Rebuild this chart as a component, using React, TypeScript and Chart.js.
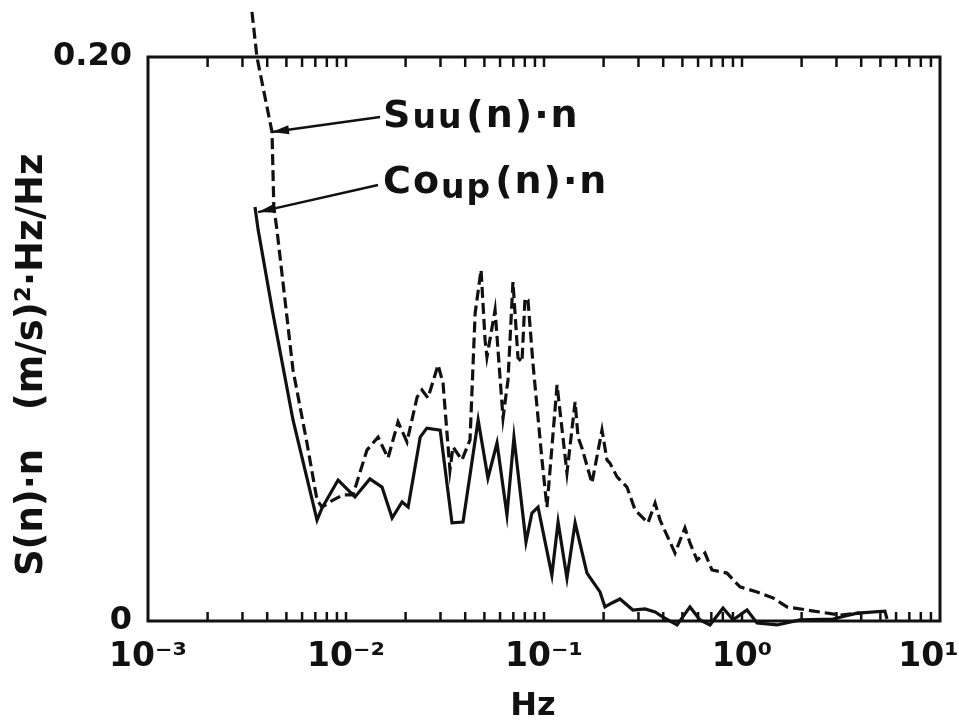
import { useEffect, useRef } from 'react';
import { Chart, registerables } from 'chart.js';

Chart.register(...registerables);

// ---- Data ----
// Suu(n)·n  (dashed)
const suuFreq = [
  0.00335, 0.00355, 0.00423, 0.00432, 0.00448, 0.0054, 0.00635, 0.00714, 0.00757, 0.00859,
  0.00966, 0.01084, 0.01276, 0.01452, 0.0163, 0.01832, 0.02032, 0.02286, 0.0242, 0.02594,
  0.02917, 0.0309, 0.0335, 0.0347, 0.0385, 0.0423, 0.0449, 0.0481, 0.0504, 0.0515,
  0.0566, 0.0621, 0.0658, 0.0697, 0.0739, 0.0774, 0.0802, 0.083, 0.0879, 0.0977,
  0.1035, 0.1164, 0.1306, 0.1436, 0.1486, 0.1556, 0.1746, 0.1963, 0.208, 0.2153,
  0.2339, 0.2624, 0.2884, 0.335, 0.364, 0.3855, 0.459, 0.515, 0.546, 0.593,
  0.65, 0.705, 0.839, 0.977, 1.191, 1.435, 1.687, 2.13, 3.126, 3.945,
];
const suuValue = [
  0.216, 0.2, 0.1734, 0.1468, 0.1387, 0.089, 0.0631, 0.0429, 0.0404, 0.0429,
  0.0447, 0.0447, 0.0606, 0.0652, 0.0578, 0.0706, 0.0635, 0.0794, 0.0819, 0.0791,
  0.0908, 0.0844, 0.0535, 0.0617, 0.0571, 0.0642, 0.1092, 0.1245, 0.0996, 0.0936,
  0.1103, 0.072, 0.0855, 0.1202, 0.0933, 0.0918, 0.1145, 0.1138, 0.0915, 0.0571,
  0.0404, 0.0837, 0.0525, 0.0777, 0.0652, 0.0613, 0.0489, 0.0677, 0.0571, 0.056,
  0.0511, 0.0475, 0.0394, 0.0348, 0.0418, 0.0358, 0.0241, 0.033, 0.0277, 0.0216,
  0.0241, 0.0181, 0.017, 0.0121, 0.0103, 0.0082, 0.005, 0.0039, 0.0021, 0.0028,
];

// Co_up(n)·n  (solid)
const coupFreq = [
  0.00347, 0.0036, 0.00427, 0.0054, 0.00714, 0.00757, 0.00912, 0.0111, 0.0132, 0.0152,
  0.0171, 0.0192, 0.0206, 0.0237, 0.0256, 0.0299, 0.0343, 0.039, 0.0465, 0.0521,
  0.0579, 0.065, 0.0705, 0.0811, 0.0869, 0.0933, 0.1096, 0.1178, 0.1306, 0.1436,
  0.1648, 0.1812, 0.1918, 0.2032, 0.2203, 0.2421, 0.281, 0.3236, 0.364, 0.399,
  0.47, 0.546, 0.614, 0.689, 0.802, 0.902, 1.06, 1.191, 1.503, 1.963,
  2.884, 3.81, 5.27, 5.4,
];
const coupValue = [
  0.1468, 0.1387, 0.1092, 0.0713, 0.0358, 0.0401, 0.05, 0.044, 0.0504, 0.0475,
  0.0365, 0.0422, 0.0404, 0.0652, 0.0684, 0.0677, 0.0348, 0.0351, 0.0713, 0.0507,
  0.0631, 0.0376, 0.0652, 0.028, 0.0383, 0.0404, 0.0163, 0.0351, 0.0152, 0.0348,
  0.017, 0.0128, 0.0103, 0.005, 0.0064, 0.0078, 0.0039, 0.0043, 0.0032, 0.0014,
  -0.0014, 0.005, 0.0004, -0.0014, 0.0046, 0.0004, 0.0039, -0.0007, -0.0014, 0.0004,
  0.0007, 0.0028, 0.0035, 0.0007,
];

// Axes
const xMin = 0.001;
const xMax = 10;
const xDecades = [0.001, 0.01, 0.1, 1, 10];
const xDecadeLabels = ['10⁻³', '10⁻²', '10⁻¹', '10⁰', '10¹  '];
const xMultipliers = [1, 2, 3, 4, 5, 6, 7, 8, 9];
const yMin = 0;
const yMax = 0.2;
const yTickValues = [0, 0.2];
const yTickLabels = ['0', '0.20'];
const xTitle = 'Hz  ';
const yTitle = 'S(n)·n   (m/s)²·Hz/Hz    ';

// Annotations (text + arrow), anchored in data units
const annMain = ['S', 'Co'];
const annSub = ['uu', 'up'];
const annRest = ['(n)·n', '(n)·n'];
const annTextFreq = [0.01538, 0.01538];
const annTextValue = [0.1752, 0.1518];
const annSubDrop = [1, 5];
const annTailFreq = [0.01486, 0.01452];
const annTailValue = [0.1787, 0.1546];
const annTipFreq = [0.00423, 0.0036];
const annTipValue = [0.1734, 0.145];

const INK = '#111';
const FONT = '"DejaVu Sans", "Noto Sans", sans-serif';

const framePlugin = {
  id: 'frameTicksAnnotations',
  afterDatasetsDraw(chart: any) {
    const { ctx, chartArea: a, scales } = chart;
    const xs = scales.x;
    const ys = scales.y;
    ctx.save();
    ctx.strokeStyle = INK;
    ctx.fillStyle = INK;
    ctx.setLineDash([]);
    ctx.lineWidth = 3;
    ctx.strokeRect(a.left, a.top, a.right - a.left, a.bottom - a.top);

    // inward tick marks on top and bottom
    ctx.lineWidth = 2.5;
    xs.ticks.forEach((t: any) => {
      const px = xs.getPixelForValue(t.value);
      if (px <= a.left + 1 || px >= a.right - 1) return;
      ctx.beginPath();
      ctx.moveTo(px, a.bottom);
      ctx.lineTo(px, a.bottom - 9);
      ctx.moveTo(px, a.top);
      ctx.lineTo(px, a.top + 10);
      ctx.stroke();
    });

    // annotations
    for (let i = 0; i < annMain.length; i++) {
      const tx = xs.getPixelForValue(annTextFreq[i]);
      const ty = ys.getPixelForValue(annTextValue[i]);
      (ctx as any).letterSpacing = '2px';
      ctx.textBaseline = 'alphabetic';
      ctx.textAlign = 'left';
      ctx.font = `bold 38px ${FONT}`;
      ctx.fillText(annMain[i], tx, ty);
      let cx = tx + ctx.measureText(annMain[i]).width;
      ctx.font = `bold 33px ${FONT}`;
      ctx.fillText(annSub[i], cx, ty + annSubDrop[i]);
      cx += ctx.measureText(annSub[i]).width + 3;
      ctx.font = `bold 38px ${FONT}`;
      ctx.fillText(annRest[i], cx, ty);
      (ctx as any).letterSpacing = '0px';

      const x1 = xs.getPixelForValue(annTailFreq[i]);
      const y1 = ys.getPixelForValue(annTailValue[i]);
      const x2 = xs.getPixelForValue(annTipFreq[i]);
      const y2 = ys.getPixelForValue(annTipValue[i]);
      ctx.lineWidth = 2.5;
      ctx.beginPath();
      ctx.moveTo(x1, y1);
      ctx.lineTo(x2, y2);
      ctx.stroke();
      const ang = Math.atan2(y2 - y1, x2 - x1);
      const len = 17;
      const hw = 4.5;
      const bx = x2 - len * Math.cos(ang);
      const by = y2 - len * Math.sin(ang);
      ctx.beginPath();
      ctx.moveTo(x2, y2);
      ctx.lineTo(bx + hw * Math.sin(ang), by - hw * Math.cos(ang));
      ctx.lineTo(bx - hw * Math.sin(ang), by + hw * Math.cos(ang));
      ctx.closePath();
      ctx.fill();
    }
    ctx.restore();
  },
};

export default function App() {
  const canvasRef = useRef<HTMLCanvasElement | null>(null);

  useEffect(() => {
    const canvas = canvasRef.current;
    if (!canvas) return;
    const xTickValues: number[] = [];
    xDecades.forEach((d, di) => {
      xMultipliers.forEach((m) => {
        const v = d * m;
        if (v <= xMax && (di < xDecades.length - 1 || m === 1)) xTickValues.push(v);
      });
    });

    const chart = new Chart(canvas, {
      type: 'line',
      data: {
        datasets: [
          {
            label: 'Suu(n)·n',
            data: suuFreq.map((f, i) => ({ x: f, y: suuValue[i] })),
            borderColor: INK,
            borderWidth: 3.2,
            borderDash: [11, 5],
            pointRadius: 0,
            tension: 0,
            fill: false,
            clip: false as any,
          },
          {
            label: 'Coup(n)·n',
            data: coupFreq.map((f, i) => ({ x: f, y: coupValue[i] })),
            borderColor: INK,
            borderWidth: 3.2,
            pointRadius: 0,
            tension: 0,
            fill: false,
            clip: false as any,
          },
        ],
      },
      options: {
        animation: false,
        responsive: false,
        maintainAspectRatio: false,
        layout: { padding: { top: 57, right: 19, left: 0, bottom: 0 } },
        plugins: {
          legend: { display: false },
          tooltip: { enabled: false },
        },
        scales: {
          x: {
            type: 'logarithmic',
            position: 'bottom',
            min: xMin,
            max: xMax,
            grid: { display: false, drawTicks: false },
            border: { display: false },
            afterBuildTicks: (scale: any) => {
              scale.ticks = xTickValues.map((v) => ({ value: v }));
            },
            afterFit: (scale: any) => {
              scale.height = 102;
              scale.paddingLeft = 0;
              scale.paddingRight = 0;
            },
            ticks: {
              autoSkip: false,
              maxRotation: 0,
              minRotation: 0,
              padding: 17,
              color: INK,
              font: { family: FONT, size: 33, weight: 'bold' },
              callback: (value: any) => {
                const v = Number(value);
                const i = xDecades.findIndex((d) => Math.abs(v / d - 1) < 1e-6);
                return i >= 0 ? xDecadeLabels[i] : '';
              },
            },
            title: {
              display: true,
              text: xTitle,
              color: INK,
              font: { family: FONT, size: 32, weight: 'bold', lineHeight: 1 },
              padding: { top: 0, bottom: 0 },
            },
          },
          y: {
            type: 'linear',
            position: 'left',
            min: yMin,
            max: yMax,
            grid: { display: false, drawTicks: false },
            border: { display: false },
            afterBuildTicks: (scale: any) => {
              scale.ticks = yTickValues.map((v) => ({ value: v }));
            },
            afterFit: (scale: any) => {
              scale.width = 148;
              scale.paddingTop = 0;
              scale.paddingBottom = 0;
            },
            ticks: {
              padding: 16,
              color: INK,
              font: { family: FONT, size: 32, weight: 'bold' },
              callback: (value: any) => {
                const i = yTickValues.findIndex((t) => Math.abs(t - Number(value)) < 1e-9);
                return i >= 0 ? yTickLabels[i] : '';
              },
            },
            title: {
              display: true,
              text: yTitle,
              color: INK,
              font: { family: FONT, size: 37, weight: 'bold', lineHeight: 1 },
              padding: { top: 14, bottom: 0 },
            },
          },
        },
      },
      plugins: [framePlugin],
    });

    return () => {
      chart.destroy();
    };
  }, []);

  return (
    <div style={{ position: 'fixed', left: 0, top: 0, width: 959, height: 723, background: '#fff' }}>
      <canvas ref={canvasRef} width={959} height={723} style={{ display: 'block' }} />
    </div>
  );
}
